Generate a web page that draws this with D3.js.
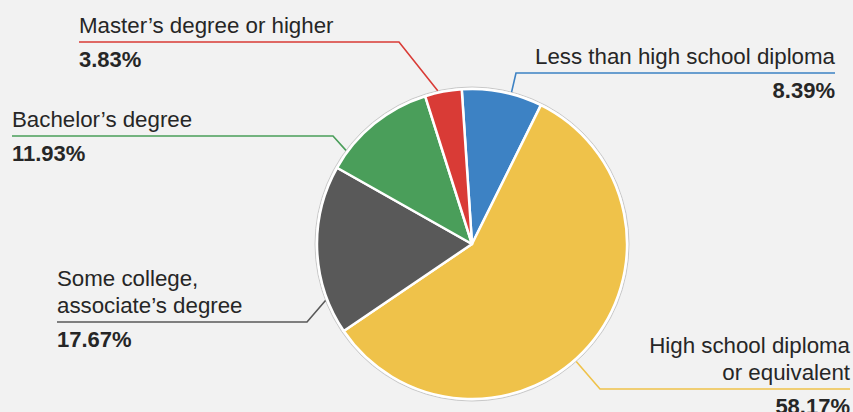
<!DOCTYPE html>
<html>
<head>
<meta charset="utf-8">
<script src="https://cdn.jsdelivr.net/npm/d3@7"></script>
<style>
  html, body { margin: 0; padding: 0; background: #f2f2f2; }
  svg { display: block; font-family: "Liberation Sans", Arial, sans-serif; }
</style>
</head>
<body>
<div id="chart"></div>
<script>
// data, clockwise from the top
var categories = ["Less than high school diploma", "High school diploma or equivalent",
  "Some college, associate\u2019s degree", "Bachelor\u2019s degree", "Master\u2019s degree or higher"];
var shares = [8.39, 58.17, 17.67, 11.93, 3.83];
var labelLines = [
  ["Less than high school diploma"],
  ["High school diploma", "or equivalent"],
  ["Some college,", "associate\u2019s degree"],
  ["Bachelor\u2019s degree"],
  ["Master\u2019s degree or higher"]
];
var colors = ["#3d82c4", "#efc24a", "#595959", "#4a9e5a", "#d93b36"];

var width = 853, height = 412;
var cx = 472, cy = 244, radius = 155;
var startOffset = -3.8 * Math.PI / 180;

// label placement: text anchor x, line y, side, and where the leader meets the pie (deg)
var labelPos = [
  {x: 835, lineY: 73, anchor: "end", elbowX: 516, deg: 14.6},
  {x: 850, lineY: 389, anchor: "end", elbowX: 600, deg: 138.4},
  {x: 57, lineY: 322, anchor: "start", elbowX: 307, deg: 248.9},
  {x: 12, lineY: 136, anchor: "start", elbowX: 333, deg: 306.6},
  {x: 79, lineY: 42, anchor: "start", elbowX: 399, deg: -12.6}
];

var svg = d3.select("#chart").append("svg")
  .attr("width", width)
  .attr("height", height);

var pie = d3.pie().sort(null)
  .startAngle(startOffset)
  .endAngle(startOffset + 2 * Math.PI)
  .value(function(d) { return d; });

var arc = d3.arc().innerRadius(0).outerRadius(radius);

var g = svg.append("g").attr("transform", "translate(" + cx + "," + cy + ")");

// faint outer ring
g.append("circle")
  .attr("r", radius + 2)
  .attr("fill", "none")
  .attr("stroke", "#c9c9c9")
  .attr("stroke-width", 1);

g.selectAll("path.slice")
  .data(pie(shares))
  .enter().append("path")
  .attr("class", "slice")
  .attr("d", arc)
  .attr("fill", function(d, i) { return colors[i]; })
  .attr("stroke", "#ffffff")
  .attr("stroke-width", 2.5)
  .attr("stroke-linejoin", "round");

// labels and leader lines
var labels = svg.append("g");
labelPos.forEach(function(p, i) {
  var a = p.deg * Math.PI / 180;
  var px = cx + (radius + 2) * Math.sin(a);
  var py = cy - (radius + 2) * Math.cos(a);
  labels.append("path")
    .attr("d", d3.line()([[p.x, p.lineY], [p.elbowX, p.lineY], [px, py]]))
    .attr("fill", "none")
    .attr("stroke", colors[i])
    .attr("stroke-width", 1.6);

  var lines = labelLines[i];
  lines.forEach(function(t, k) {
    labels.append("text")
      .attr("x", p.x)
      .attr("y", p.lineY - 9 - (lines.length - 1 - k) * 27)
      .attr("text-anchor", p.anchor)
      .attr("font-size", "22.3px")
      .attr("fill", "#262626")
      .text(t);
  });
  labels.append("text")
    .attr("x", p.x)
    .attr("y", p.lineY + 25)
    .attr("text-anchor", p.anchor)
    .attr("font-size", "22px")
    .attr("font-weight", "bold")
    .attr("fill", "#262626")
    .text(shares[i].toFixed(2) + "%");
});
</script>
</body>
</html>
